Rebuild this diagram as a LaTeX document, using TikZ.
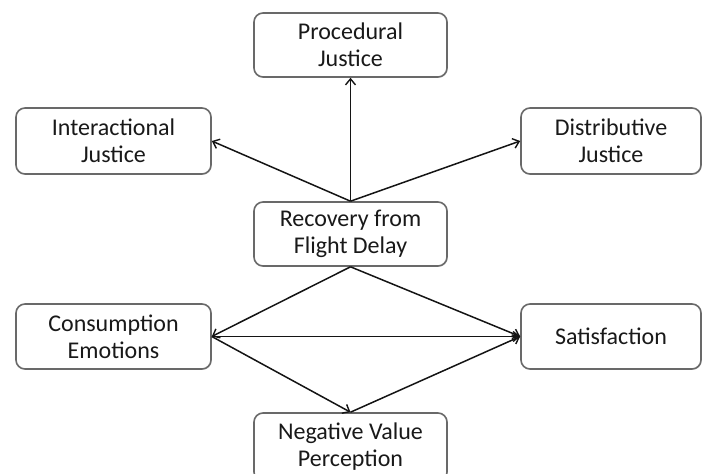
\documentclass[tikz,border=0pt]{standalone}
\usepackage{fontspec}
\setmainfont{Carlito}
\usetikzlibrary{arrows.meta,shadows}
\definecolor{boxline}{RGB}{105,105,105}
\definecolor{txt}{RGB}{25,25,25}
\definecolor{arr}{RGB}{20,20,20}
\begin{document}
\begin{tikzpicture}[x=1pt,y=-1pt,
  box/.style={draw=boxline, line width=1.6pt, rounded corners=9pt, fill=white,
    drop shadow={shadow xshift=0.8pt, shadow yshift=-0.8pt, opacity=0.25},
    align=center, text=txt, inner sep=0pt,
    font=\fontsize{24}{27}\selectfont},
  link/.style={draw=arr, line width=1.5pt, -{Straight Barb[length=6pt,width=10pt,line width=1.4pt]}}]
\useasboundingbox (0,0) rectangle (702,474);
\clip (0,0) rectangle (702,474);
\node[box, minimum width=193pt, minimum height=64pt] (proc) at (350.5,45) {Procedural\\Justice};
\node[box, minimum width=195pt, minimum height=66pt] (inter) at (113.5,141) {Interactional\\Justice};
\node[box, minimum width=180pt, minimum height=66pt] (dist) at (611,141) {Distributive\\Justice};
\node[box, minimum width=193pt, minimum height=64pt] (rec) at (350.5,234) {Recovery from\\Flight Delay};
\node[box, minimum width=195pt, minimum height=65pt] (cons) at (113.5,336.5) {Consumption\\Emotions};
\node[box, minimum width=180pt, minimum height=65pt] (sat) at (611,336.5) {Satisfaction};
\node[box, minimum width=193pt, minimum height=68pt] (neg) at (350.5,447) {Negative Value\\Perception};
\draw[link] (rec.north) -- (proc.south);
\draw[link] (rec.north) -- (inter.east);
\draw[link] (rec.north) -- (dist.west);
\draw[link] (rec.south) -- (cons.east);
\draw[link] (rec.south) -- (sat.west);
\draw[link] (cons.east) -- (sat.west);
\draw[link] (cons.east) -- (neg.north);
\draw[link] (neg.north) -- (sat.west);
\end{tikzpicture}
\end{document}
